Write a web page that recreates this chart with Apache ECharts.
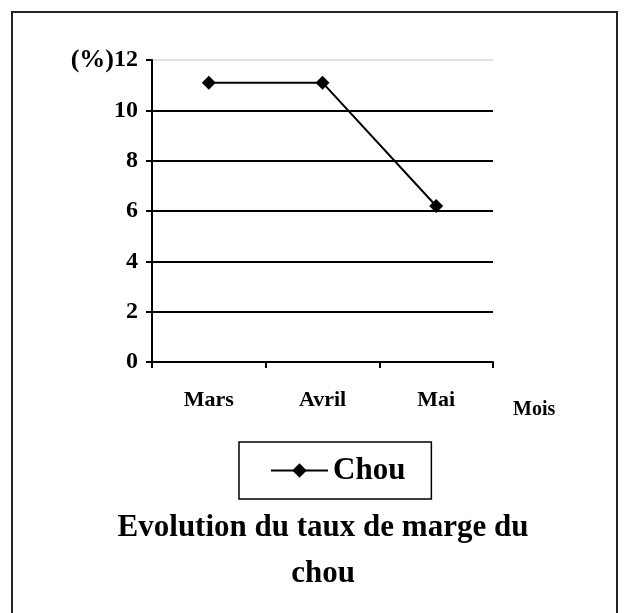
<!DOCTYPE html>
<html><head><meta charset="utf-8">
<script src="https://cdn.jsdelivr.net/npm/echarts@6/dist/echarts.min.js"></script>
<style>html,body{margin:0;padding:0;background:#fff}#c{width:631px;height:613px}</style>
</head><body><div id="c"></div>
<script>
const categories = ['Mars', 'Avril', 'Mai'];
const chouValues = [11.1, 11.1, 6.2];
const seriesName = 'Chou';
const titleText = 'Evolution du taux de marge du\nchou';
const xAxisName = 'Mois';
const yUnit = '(%)';

const font = '"Liberation Serif", "DejaVu Serif", serif';
const chart = echarts.init(document.getElementById('c'));
chart.setOption({
  animation: false,
  backgroundColor: '#fff',
  graphic: [{
    type: 'rect', shape: { x: 12, y: 12, width: 605, height: 640 },
    style: { fill: 'none', stroke: '#222', lineWidth: 2 }, silent: true
  }],
  title: {
    text: titleText, left: 318, top: 500, textAlign: 'center',
    textStyle: { fontFamily: font, fontWeight: 'bold', fontSize: 31, color: '#000', lineHeight: 46 }
  },
  legend: {
    data: [seriesName], left: 239, top: 442,
    padding: [13, 26, 13, 31], itemGap: 0,
    borderColor: '#000', borderWidth: 1.5, borderRadius: 0,
    itemWidth: 57, itemHeight: 18,
    textStyle: { fontFamily: font, fontWeight: 'bold', fontSize: 31, color: '#000' }
  },
  grid: { left: 152, top: 60, width: 341, height: 302, containLabel: false },
  xAxis: {
    type: 'category', data: categories, boundaryGap: true,
    name: xAxisName, nameLocation: 'end', nameGap: 20,
    nameTextStyle: { fontFamily: font, fontWeight: 'bold', fontSize: 20, color: '#000', verticalAlign: 'top', padding: [38, 0, 0, 0] },
    axisLine: { lineStyle: { color: '#000', width: 2 } },
    axisTick: { show: true, alignWithLabel: false, length: 6, lineStyle: { color: '#000', width: 2 } },
    axisLabel: { fontFamily: font, fontWeight: 'bold', fontSize: 22, color: '#000', margin: 27 },
    splitLine: { show: false }
  },
  yAxis: {
    type: 'value', min: 0, max: 12, interval: 2,
    axisLine: { show: true, lineStyle: { color: '#000', width: 2 } },
    axisTick: { show: true, length: 6, lineStyle: { color: '#000', width: 2 } },
    axisLabel: {
      fontFamily: font, fontWeight: 'bold', fontSize: 24, color: '#000', margin: 14,
      formatter: v => v === 12 ? '{u|' + yUnit + '}' + v : String(v),
      rich: { u: { fontFamily: font, fontWeight: 'bold', fontSize: 26, color: '#000' } }
    },
    splitLine: {
      show: true,
      lineStyle: { color: ['#000', '#000', '#000', '#000', '#000', '#000', '#e2e2e2'], width: 2 }
    }
  },
  series: [{
    name: seriesName, type: 'line', data: chouValues,
    symbol: 'diamond', symbolSize: 14,
    lineStyle: { color: '#000', width: 2 },
    itemStyle: { color: '#000' }
  }]
});
</script></body></html>
